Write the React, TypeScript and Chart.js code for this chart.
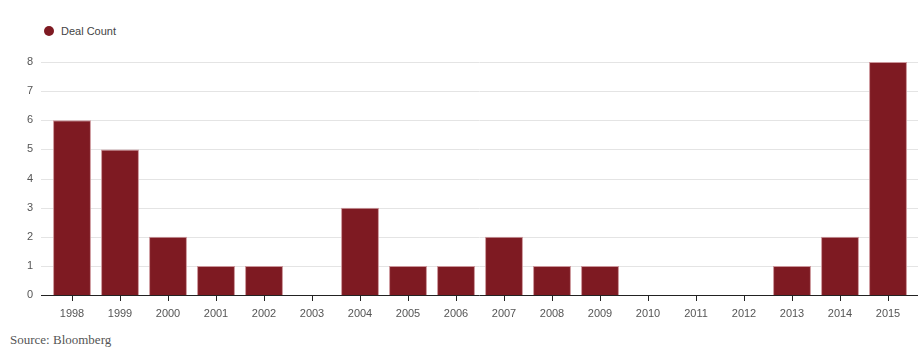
import React, { useEffect, useRef } from "react";
import { Chart, registerables } from "chart.js";

Chart.register(...registerables);

const years = ["1998","1999","2000","2001","2002","2003","2004","2005","2006","2007","2008","2009","2010","2011","2012","2013","2014","2015"];
const dealCount = [6, 5, 2, 1, 1, 0, 3, 1, 1, 2, 1, 1, 0, 0, 0, 1, 2, 8];
const yTicks = [0, 1, 2, 3, 4, 5, 6, 7, 8];
const seriesName = "Deal Count";
const sourceText = "Source: Bloomberg";

const BAR = "#7e1a22";

const gridPlugin = {
  id: "customGrid",
  beforeDatasetsDraw(chart: any) {
    const { ctx, chartArea, scales } = chart;
    const y = scales.y;
    ctx.save();
    ctx.lineWidth = 1;
    for (const v of yTicks) {
      if (v === 0) continue;
      const py = Math.round(y.getPixelForValue(v)) + 0.5;
      ctx.strokeStyle = "#e4e4e4";
      ctx.beginPath();
      ctx.moveTo(chartArea.left - 7, py);
      ctx.lineTo(chartArea.right + 6, py);
      ctx.stroke();
    }
    ctx.restore();
  },
  afterDatasetsDraw(chart: any) {
    const { ctx, chartArea, scales } = chart;
    const y = scales.y;
    ctx.save();
    const py = Math.round(y.getPixelForValue(0)) + 0.5;
    ctx.strokeStyle = "#222";
    ctx.lineWidth = 1;
    ctx.beginPath();
    ctx.moveTo(chartArea.left - 7, py);
    ctx.lineTo(chartArea.right + 6, py);
    ctx.stroke();
    ctx.restore();
  },
};

export default function App() {
  const ref = useRef<HTMLCanvasElement>(null);
  useEffect(() => {
    document.body.style.margin = "0";
    const chart = new Chart(ref.current!, {
      type: "bar",
      data: {
        labels: years,
        datasets: [
          {
            label: seriesName,
            data: dealCount,
            backgroundColor: BAR,
            borderColor: "rgba(200,140,145,0.9)",
            borderWidth: 1,
            barPercentage: 0.79,
            categoryPercentage: 1,
          },
        ],
      },
      options: {
        animation: false,
        responsive: false,
        maintainAspectRatio: false,
        layout: { padding: { top: 62, left: 0, right: 10, bottom: 0 } },
        plugins: { legend: { display: false }, tooltip: { enabled: false } },
        scales: {
          x: {
            offset: true,
            border: { display: false },
            grid: {
              offset: false,
              drawOnChartArea: false,
              drawTicks: true,
              tickLength: 6,
              color: "#222",
            },
            ticks: {
              color: "#555",
              font: { family: "Liberation Sans, Arial, sans-serif", size: 11 },
              padding: 6,
              maxRotation: 0,
              autoSkip: false,
            },
            afterFit(scale: any) {
              scale.height = 30;
            },
          },
          y: {
            min: 0,
            max: 8,
            border: { display: false },
            grid: { display: false, drawTicks: false },
            ticks: {
              stepSize: 1,
              color: "#555",
              font: { family: "Liberation Sans, Arial, sans-serif", size: 11 },
              padding: 15,
            },
            afterFit(scale: any) {
              scale.width = 48;
            },
          },
        },
      },
      plugins: [gridPlugin],
    });
    return () => chart.destroy();
  }, []);

  return (
    <div style={{ position: "relative", width: 922, height: 355, background: "#fff", overflow: "hidden" }}>
      <div style={{ position: "absolute", left: 44, top: 25, display: "flex", alignItems: "center", fontFamily: "Liberation Sans, Arial, sans-serif", fontSize: 11, color: "#444" }}>
        <span style={{ display: "inline-block", width: 10, height: 10, borderRadius: "50%", background: BAR, marginRight: 7 }} />
        <span>{seriesName}</span>
      </div>
      <canvas ref={ref} width={922} height={325} style={{ position: "absolute", left: 0, top: 0 }} />
      <div style={{ position: "absolute", left: 10, top: 332, fontFamily: "Liberation Serif, Georgia, serif", fontSize: 13, color: "#555" }}>
        {sourceText}
      </div>
    </div>
  );
}
